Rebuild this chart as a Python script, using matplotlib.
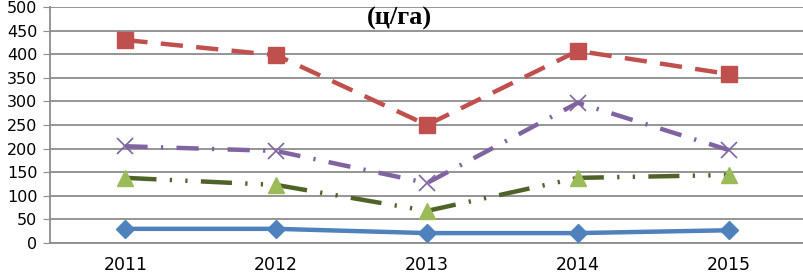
import numpy as np
import matplotlib
matplotlib.use('Agg')
import matplotlib.pyplot as plt

years = ['2011', '2012', '2013', '2014', '2015']
blue_vals = [30, 30, 21, 21, 27]
red_vals = [430, 398, 250, 407, 358]
purple_vals = [205, 195, 127, 297, 197]
green_vals = [138, 123, 68, 138, 144]

fig = plt.figure(figsize=(8.04, 2.74), dpi=100)
ax = fig.add_axes([50/804, 31/274, 754/804, 236/274])
x = np.arange(len(years))

ax.plot(x, blue_vals, color='#4F81BD', lw=3.2, marker='D', ms=9, zorder=3)
ax.plot(x, red_vals, color='#C0504D', lw=3.2, ls=(0, (5, 3)), marker='s', ms=12, zorder=3)
ax.plot(x, purple_vals, color='#8064A2', lw=3.2, ls=(0, (5, 3, 0.5, 3)), marker='x', ms=12,
        mew=1.2, zorder=3)
ax.plot(x, green_vals, color='#4F6228', lw=3.2, ls=(0, (7, 3, 0.5, 3, 0.5, 3)), marker='^',
        ms=12, mfc='#9BBB59', mec='#9BBB59', zorder=3)

ax.set_xlim(-0.5, 4.5)
ax.set_ylim(0, 500)
ax.set_yticks(np.arange(0, 501, 50))
ax.set_xticks(x)
ax.set_xticklabels(years)
ax.grid(axis='y', color='#8C8C8C', lw=1.3)
ax.set_axisbelow(True)
for s in ['top', 'right']:
    ax.spines[s].set_visible(False)
ax.spines['left'].set_color('#8C8C8C')
ax.spines['bottom'].set_color('#8C8C8C')
ax.spines['left'].set_linewidth(1.3)
ax.spines['bottom'].set_linewidth(1.3)
ax.tick_params(axis='y', labelsize=11.5, color='#8C8C8C', length=5, pad=4)
ax.tick_params(axis='x', labelsize=12.5, length=0, pad=9)

fig.text(399/804, 1 - 18/274, '(ц/га)', ha='center', va='center', fontsize=19,
         fontweight='bold', family='Liberation Serif')

fig.savefig('out.png', dpi=100)
plt.close(fig)
